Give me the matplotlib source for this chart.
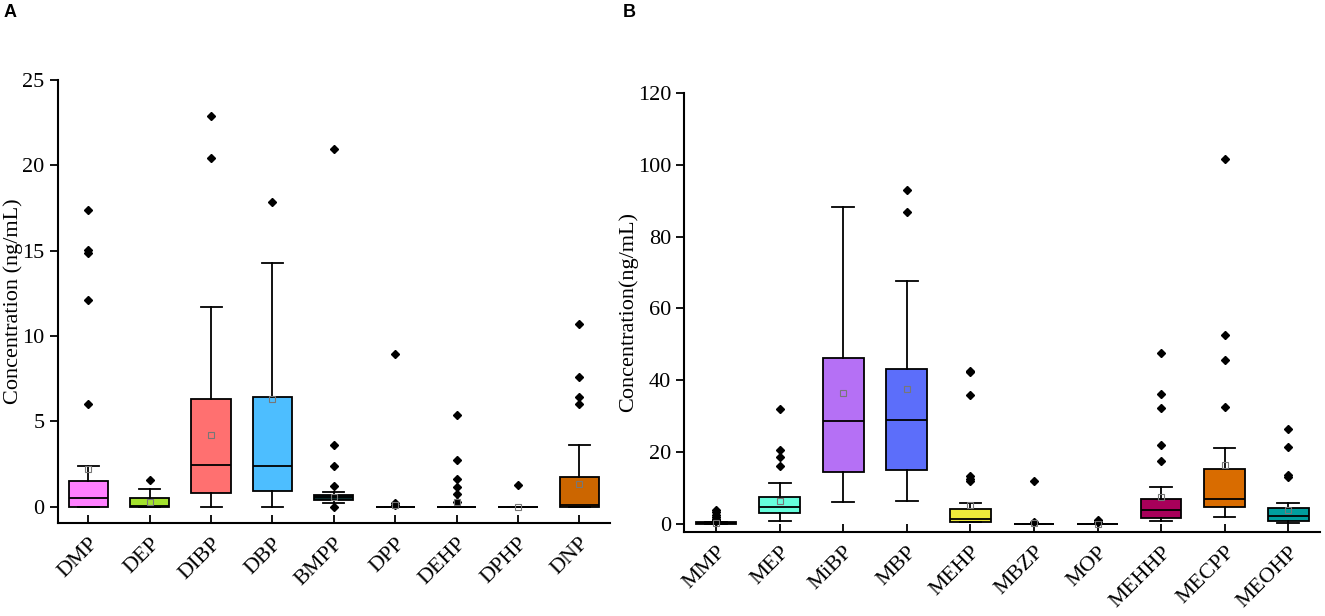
import matplotlib.pyplot as plt

plt.rcParams['font.family'] = ['Liberation Serif', 'DejaVu Serif']

# ---- panel A: parent phthalates (ng/mL) ----
names_a = ['DMP', 'DEP', 'DIBP', 'DBP', 'BMPP', 'DPP', 'DEHP', 'DPHP', 'DNP']
q1_a = [0.0, 0.0, 0.78, 0.94, 0.42, 0.0, 0.0, 0.0, 0.0]
med_a = [0.5, 0.02, 2.44, 2.4, 0.55, 0.0, 0.0, 0.0, 0.08]
q3_a = [1.52, 0.53, 6.29, 6.41, 0.68, 0.0, 0.0, 0.0, 1.76]
wlo_a = [0.0, 0.0, 0.0, 0.0, 0.24, 0.0, 0.0, 0.0, 0.0]
whi_a = [2.36, 1.02, 11.68, 14.26, 0.86, 0.0, 0.0, 0.0, 3.63]
mean_a = [2.2, 0.27, 4.22, 6.3, 0.55, 0.1, 0.3, 0.0, 1.33]
fliers_a = [
    [6.03, 12.1, 14.85, 15.05, 17.4],
    [1.58],
    [20.45, 22.89],
    [17.87],
    [0.0, 1.21, 2.37, 3.61, 20.97],
    [0.12, 0.22, 8.96],
    [0.29, 0.76, 1.17, 1.6, 2.75, 5.39],
    [1.27],
    [6.02, 6.41, 7.58, 10.68],
]
colors_a = ['#FF80FF', '#A3E22E', '#FF7070', '#4DBEFF', '#0B2E2E',
            '#888888', '#888888', '#888888', '#CC6600']

# ---- panel B: metabolites (ng/mL) ----
names_b = ['MMP', 'MEP', 'MiBP', 'MBP', 'MEHP', 'MBZP', 'MOP', 'MEHHP', 'MECPP', 'MEOHP']
q1_b = [0.1, 3.24, 14.46, 15.2, 0.74, 0.0, 0.0, 1.85, 4.73, 1.02]
med_b = [0.25, 4.91, 28.7, 28.9, 1.4, 0.0, 0.0, 3.99, 7.14, 2.32]
q3_b = [0.5, 7.69, 46.15, 43.2, 4.17, 0.1, 0.1, 7.04, 15.38, 4.54]
wlo_b = [0.0, 1.02, 6.1, 6.5, 0.74, 0.0, 0.0, 0.93, 1.95, 0.46]
whi_b = [0.7, 11.4, 88.3, 67.7, 6.0, 0.1, 0.1, 10.47, 21.3, 5.93]
mean_b = [0.4, 6.58, 36.4, 37.6, 5.4, 0.3, 0.2, 7.7, 16.5, 4.08]
fliers_b = [
    [0.8, 1.1, 1.5, 2.0, 2.6, 3.3, 4.0],
    [16.3, 18.8, 20.7, 32.0],
    [],
    [86.9, 93.0],
    [11.9, 12.5, 13.3, 36.0, 42.4, 42.7],
    [0.74, 11.96],
    [0.7, 1.2],
    [17.6, 22.1, 32.3, 36.2, 47.5],
    [32.7, 45.7, 52.5, 101.6],
    [13.0, 13.7, 21.6, 26.6],
]
colors_b = ['#111111', '#66FFDD', '#B570F5', '#5C6EFA', '#EEEA3A',
            '#888888', '#888888', '#A8005A', '#D96C00', '#009E9E']


def make_stats(names, q1, med, q3, wlo, whi, mean, fliers):
    stats = []
    for i in range(len(names)):
        stats.append({'label': names[i], 'q1': q1[i], 'med': med[i], 'q3': q3[i],
                      'whislo': wlo[i], 'whishi': whi[i], 'mean': mean[i],
                      'fliers': fliers[i]})
    return stats


def draw_panel(ax, stats, colors, ylim, yticks, ylabel, label_x):
    bp = ax.bxp(stats, positions=range(len(stats)), widths=0.64,
                patch_artist=True, showmeans=True, showfliers=True,
                boxprops=dict(edgecolor='black', linewidth=1.3),
                medianprops=dict(color='black', linewidth=1.3),
                whiskerprops=dict(color='black', linewidth=1.3),
                capprops=dict(color='black', linewidth=1.3),
                capwidths=0.34,
                flierprops=dict(marker='D', markerfacecolor='black',
                                markeredgecolor='black', markersize=4.5),
                meanprops=dict(marker='s', markerfacecolor='none',
                               markeredgecolor='#777777', markersize=4,
                               markeredgewidth=0.8))
    for patch, c in zip(bp['boxes'], colors):
        patch.set_facecolor(c)

    ax.set_xlim(-0.5, len(stats) - 0.5)
    ax.set_ylim(*ylim)
    ax.set_yticks(yticks)
    ax.set_xticks(range(len(stats)))
    ax.set_xticklabels([s['label'] for s in stats], rotation=45,
                       ha='right', rotation_mode='anchor')
    ax.spines['top'].set_visible(False)
    ax.spines['right'].set_visible(False)
    ax.spines['left'].set_linewidth(1.5)
    ax.spines['bottom'].set_linewidth(1.5)
    ax.tick_params(axis='y', direction='out', length=6, width=1.3, labelsize=16)
    ax.tick_params(axis='x', direction='in', length=6, width=1.3, labelsize=16, pad=8)
    ax.set_ylabel(ylabel, fontsize=16)
    ax.yaxis.set_label_coords(label_x, 0.5)


fig = plt.figure(figsize=(13.25, 6.16), dpi=100)

ax_a = fig.add_axes([0.0435, 0.151, 0.4169, 0.719])
draw_panel(ax_a, make_stats(names_a, q1_a, med_a, q3_a, wlo_a, whi_a, mean_a, fliers_a),
           colors_a, (-0.95, 25), [0, 5, 10, 15, 20, 25], 'Concentration (ng/mL)', -0.062)

ax_b = fig.add_axes([0.5165, 0.137, 0.4797, 0.7125])
draw_panel(ax_b, make_stats(names_b, q1_b, med_b, q3_b, wlo_b, whi_b, mean_b, fliers_b),
           colors_b, (-2.05, 120), [0, 20, 40, 60, 80, 100, 120], 'Concentration(ng/mL)', -0.072)

fig.text(0.003, 0.972, 'A', family='Liberation Sans', fontweight='bold', fontsize=13)
fig.text(0.470, 0.972, 'B', family='Liberation Sans', fontweight='bold', fontsize=13)

fig.savefig('out.png', dpi=100)
